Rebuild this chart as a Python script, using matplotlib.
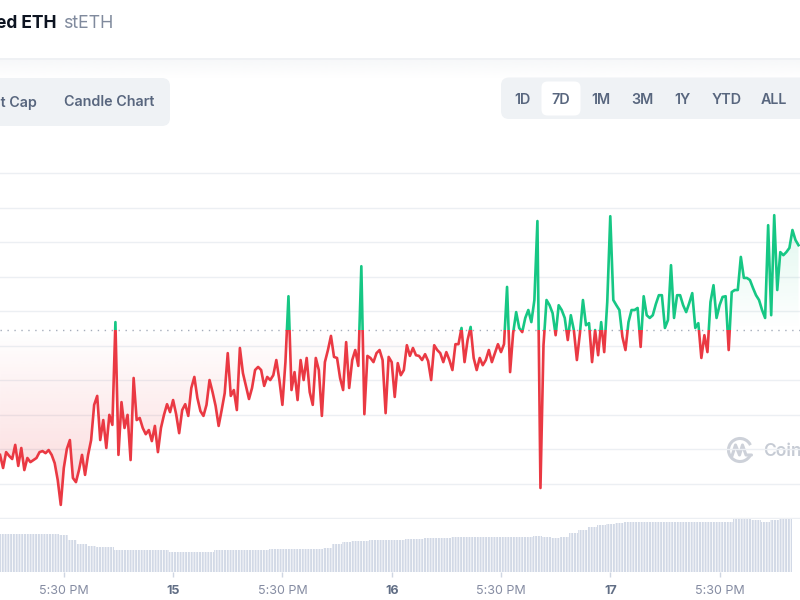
import numpy as np
import matplotlib.pyplot as plt
from matplotlib.patches import Rectangle, FancyBboxPatch, Arc
from matplotlib.path import Path
from matplotlib.colors import to_rgb

plt.rcParams['font.family'] = ['Inter', 'DejaVu Sans']
plt.rcParams['hatch.linewidth'] = 0.6
plt.rcParams['hatch.color'] = 'white'

#price sampled every 20 minutes, time in hours from the first "5:30 PM" tick
T0 = -7.0
STEP = 1 / 3
PRICE = [
    1518.3, 1514.5, 1519.1, 1518.0, 1517.1, 1521.2, 1515.1, 1520.3, 1513.9, 1517.4,
    1516.2, 1516.8, 1517.4, 1519.1, 1519.4, 1518.8, 1519.7, 1518.3, 1515.9, 1511.0,
    1503.8, 1514.5, 1520.0, 1522.6, 1511.6, 1510.4, 1513.9, 1518.3, 1512.5, 1518.3,
    1522.6, 1532.8, 1535.4, 1522.6, 1528.4, 1520.3, 1529.9, 1527.0, 1556.8, 1518.3,
    1533.6, 1526.1, 1529.9, 1516.8, 1540.6, 1528.4, 1529.0, 1526.1, 1524.3, 1525.5,
    1522.3, 1526.7, 1519.1, 1526.1, 1529.9, 1533.0, 1530.7, 1534.2, 1530.1, 1524.6,
    1531.3, 1533.0, 1529.6, 1537.7, 1540.9, 1534.8,
    1531.0, 1529.6, 1532.8, 1540.0, 1536.5, 1532.5, 1526.7, 1531.3, 1536.2, 1547.8,
    1535.4, 1537.1, 1531.3, 1549.3, 1542.0, 1538.3, 1534.5, 1537.7, 1542.9, 1543.8,
    1542.9, 1538.3, 1540.9, 1540.0, 1541.4, 1545.8, 1540.0, 1532.8, 1545.2, 1564.3,
    1537.1, 1542.3, 1534.2, 1545.8, 1540.0, 1546.4, 1536.5, 1532.8, 1546.4, 1542.9,
    1529.6, 1545.2, 1548.7, 1552.8, 1546.7, 1546.4, 1540.6, 1537.1, 1551.0, 1537.7,
    1545.8, 1548.7, 1544.1, 1573.0, 1530.1, 1547.0, 1546.4, 1545.2, 1547.8, 1548.7,
    1545.8, 1530.4, 1546.7, 1545.2, 1535.1, 1544.9,
    1541.4, 1542.9, 1550.1, 1547.0, 1549.3, 1547.2, 1547.0, 1545.8, 1547.5, 1545.5,
    1540.0, 1550.1, 1548.7, 1547.8, 1545.2, 1548.1, 1545.8, 1542.9, 1550.4, 1550.4,
    1555.1, 1545.2, 1551.6, 1555.4, 1546.4, 1542.9, 1546.4, 1544.3, 1545.8, 1548.7,
    1545.2, 1547.8, 1550.4, 1548.1, 1550.4, 1567.0, 1542.3, 1553.6, 1559.7, 1555.1,
    1553.9, 1558.0, 1560.3, 1556.8, 1563.2, 1586.1, 1508.7, 1550.1, 1563.2, 1561.7,
    1559.4, 1553.0, 1561.7, 1560.3, 1558.0, 1551.6, 1558.8, 1554.5, 1545.8, 1553.6,
    1563.2, 1555.9, 1556.5, 1545.2, 1554.5, 1547.2,
    1556.8, 1548.1, 1562.6, 1587.5, 1563.2, 1561.7, 1560.3, 1552.5, 1548.7, 1556.8,
    1560.3, 1560.3, 1560.9, 1549.6, 1564.3, 1558.8, 1558.0, 1558.8, 1562.0, 1564.6,
    1564.6, 1555.1, 1557.4, 1573.3, 1558.0, 1564.6, 1564.6, 1561.7, 1559.7, 1562.3,
    1565.2, 1555.1, 1556.5, 1546.4, 1553.0, 1548.1, 1562.6, 1567.5, 1558.0, 1561.7,
    1564.1, 1564.3, 1548.7, 1565.5, 1566.1, 1566.1, 1575.7, 1569.6, 1569.6, 1569.0,
    1566.7, 1564.6, 1563.2, 1560.3, 1558.0, 1584.9, 1558.8, 1587.8, 1566.1, 1577.1,
    1576.2, 1577.1, 1578.3, 1583.5, 1580.6, 1579.1,
]
OPEN_PRICE = 1554.5

#hourly volume, $M
VOL_T0 = -7
VOLUME = [
    75.5, 75.5, 75.5, 75.5, 75.5, 75.5, 75.5, 75.0,
    64, 56, 52, 50, 50, 44, 44, 44, 44, 44, 44,
    40.6, 40, 40, 40, 41, 44, 44, 44, 44, 45, 45,
    46, 46, 46, 46, 46, 46, 48, 56, 60, 62, 63,
    64, 64, 64, 65, 66, 67, 68, 68, 68,
    70, 70, 70, 70, 70, 70, 70, 70, 70, 72, 71, 68, 70,
    78, 84, 90, 94, 97, 99, 100, 100, 100,
    100.6, 100.6, 100.6, 100.6, 101, 101, 101, 101, 101,
    106, 106, 105, 101, 104, 107, 107,
]

TICK_HOURS = [0, 12, 24, 36, 48, 60, 72]
TICK_LABELS = ["5:30 PM", "15", "5:30 PM", "16", "5:30 PM", "17", "5:30 PM"]
DAY_LABELS = ["15", "16", "17"]
GRID_PRICES = [1500, 1510, 1520, 1530, 1540, 1550, 1560, 1570, 1580, 1590, 1600]

RANGES = ["1D", "7D", "1M", "3M", "1Y", "YTD", "ALL"]
SELECTED = "7D"

RED = '#ea3943'
GREEN = '#16c784'
GREY_TEXT = '#58667e'

XLIM = (-7.005, 80.83)
YLIM = (1499.71, 1603.8)


def px_axes(fig, top, bottom):
    #axes spanning the full width between two pixel rows
    return fig.add_axes([0, 1 - bottom / 600, 1, (bottom - top) / 600])


def gradient_fill(ax, x, y, where, color, lo, hi, a_lo, a_hi):
    """
    Fill between the line and the open price with a vertical alpha gradient.
    """

    poly = ax.fill_between(x, y, OPEN_PRICE, where=where, interpolate=True)
    clip = Path.make_compound_path(*poly.get_paths())
    poly.remove()

    rgba = np.zeros((200, 1, 4))
    rgba[:, :, :3] = to_rgb(color)
    rgba[:, 0, 3] = np.linspace(a_lo, a_hi, 200)
    im = ax.imshow(rgba, extent=(XLIM[0], XLIM[1], lo, hi), origin='lower',
                   aspect='auto', interpolation='bilinear', zorder=1.5)
    im.set_clip_path(clip, transform=ax.transData)


fig = plt.figure(figsize=(8, 6), dpi=100)

#page furniture, in pixel coordinates
ui = fig.add_axes([0, 0, 1, 1])
ui.set_xlim(0, 800)
ui.set_ylim(600, 0)
ui.axis('off')

ui.text(56, 27.5, "Lido Staked ETH", ha='right', va='baseline', fontsize=12.5,
        fontweight='bold', color='#0d1421')
ui.text(63, 27.5, "stETH", ha='left', va='baseline', fontsize=12.8, color='#808a9d')

ui.plot([0, 800], [59, 59], color='#eceff2', lw=1.2)
shade = np.ones((50, 1, 4))
shade[:, :, :3] = to_rgb('#eef0f3')
shade[:, 0, 3] = np.linspace(0.45, 0, 50)
ui.imshow(shade, extent=(0, 800, 78, 60), origin='upper', aspect='auto',
          interpolation='bilinear')
ui.set_xlim(0, 800)
ui.set_ylim(600, 0)

ui.add_patch(FancyBboxPatch((-20, 78), 190, 48, boxstyle='round,pad=0,rounding_size=8',
                            fc='#eff2f5', ec='none'))
ui.text(37, 106.5, "Market Cap", ha='right', va='baseline', fontsize=10.3,
        fontweight='semibold', color=GREY_TEXT)
ui.text(109, 106.5, "Candle Chart", ha='center', va='baseline', fontsize=10.3,
        fontweight='semibold', color=GREY_TEXT)

ui.add_patch(FancyBboxPatch((501, 77.5), 320, 41.5, boxstyle='round,pad=0,rounding_size=8',
                            fc='#eff2f5', ec='none'))
range_x = [522.7, 561, 600.7, 642.7, 682.3, 726.7, 774.3]
for label, cx in zip(RANGES, range_x):
    if label == SELECTED:
        ui.add_patch(FancyBboxPatch((cx - 19.5, 81.5), 39, 34, boxstyle='round,pad=0,rounding_size=6',
                                    fc='white', ec='none'))
    ui.text(cx, 104.5, label, ha='center', va='baseline', fontsize=10.3,
            fontweight='semibold', color=GREY_TEXT)

#watermark
ui.add_patch(Arc((740, 450), 23, 23, theta1=25, theta2=335, color='#cdd1d9', lw=2.2))
ui.plot([732, 735.5, 739.5, 742.5, 746, 751.5], [456, 445, 455, 445, 455, 455],
        color='#cdd1d9', lw=2.2, solid_joinstyle='round', solid_capstyle='round')
ui.text(763, 456, "CoinMarketCap", ha='left', va='baseline', fontsize=12.5,
        fontweight='semibold', color='#c6cbd4')

#price chart
ax = px_axes(fig, 160, 519)
ax.patch.set_alpha(0)
for s in ax.spines.values():
    s.set_visible(False)

hours = T0 + STEP * np.arange(len(PRICE))
price = np.array(PRICE)

ax.set_yticks(GRID_PRICES)
ax.set_xticks([])
ax.tick_params(left=False, labelleft=False)
ax.grid(axis='y', color='#eceff3', lw=1)
ax.set_axisbelow(True)

gradient_fill(ax, hours, price, price <= OPEN_PRICE, RED, YLIM[0], OPEN_PRICE, 0.22, 0)
gradient_fill(ax, hours, price, price >= OPEN_PRICE, GREEN, OPEN_PRICE, YLIM[1], 0, 0.2)

ax.axhline(OPEN_PRICE, color='#a5adbb', lw=1, ls=(0, (1, 4)), zorder=2)

for color, y0 in [(GREEN, OPEN_PRICE), (RED, OPEN_PRICE - 300)]:
    line, = ax.plot(hours, price, color=color, lw=1.9, zorder=3, solid_joinstyle='round')
    rect = Rectangle((XLIM[0] - 10, y0), 200, 300, transform=ax.transData)
    line.set_clip_path(rect)

ax.set_xlim(XLIM)
ax.set_ylim(YLIM)

#volume
axv = px_axes(fig, 517, 572)
axv.patch.set_alpha(0)
for s in axv.spines.values():
    s.set_visible(False)
vol_hours = VOL_T0 + np.arange(len(VOLUME))
axv.fill_between(vol_hours, VOLUME, step='mid', facecolor='#d2d9e6', edgecolor='white',
                 hatch='||||||', linewidth=0)
axv.set_xlim(XLIM)
axv.set_ylim(0, 110)
axv.set_yticks([])
axv.set_xticks(TICK_HOURS, TICK_LABELS)
axv.tick_params(axis='x', length=3.5, width=1, color='#cfd6e2', pad=5.5,
                labelsize=9, labelcolor='#858ca2')
for lab in axv.get_xticklabels():
    if lab.get_text() in DAY_LABELS:
        lab.set_fontweight('bold')
        lab.set_color('#616e85')

fig.savefig('out.png', dpi=100)
